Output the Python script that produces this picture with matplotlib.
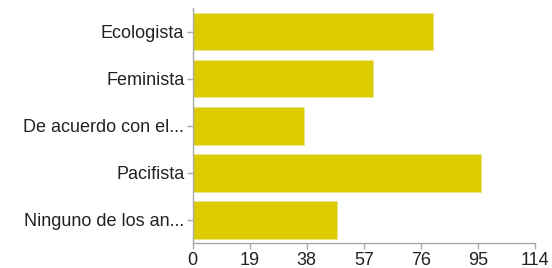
import matplotlib
matplotlib.use("Agg")
import matplotlib.pyplot as plt

categories = ["Ecologista", "Feminista", "De acuerdo con el...", "Pacifista",
              "Ninguno de los an..."]
counts = [80, 60, 37, 96, 48]
xticks = [0, 19, 38, 57, 76, 95, 114]

plt.rcParams['font.family'] = ['Liberation Sans', 'DejaVu Sans']

fig = plt.figure(figsize=(5.52, 2.68), dpi=100)
ax = fig.add_axes([0.349, 0.092, 0.62, 0.878])

ypos = list(range(len(categories)))
ax.barh(ypos, counts, height=0.8, color="#dccb00", edgecolor="#ece48a", linewidth=0.6)
ax.set_ylim(len(categories) - 0.5, -0.5)
ax.set_yticks(ypos)
ax.set_yticklabels(categories)
ax.set_xlim(0, 114)
ax.set_xticks(xticks)

for s in ["top", "right"]:
    ax.spines[s].set_visible(False)
for s in ["left", "bottom"]:
    ax.spines[s].set_color("#aaaaaa")
    ax.spines[s].set_linewidth(1)

ax.tick_params(axis="both", colors="#aaaaaa", length=4, width=1, labelsize=13,
               labelcolor="#222222", pad=2)

fig.savefig("out.png", dpi=100)
